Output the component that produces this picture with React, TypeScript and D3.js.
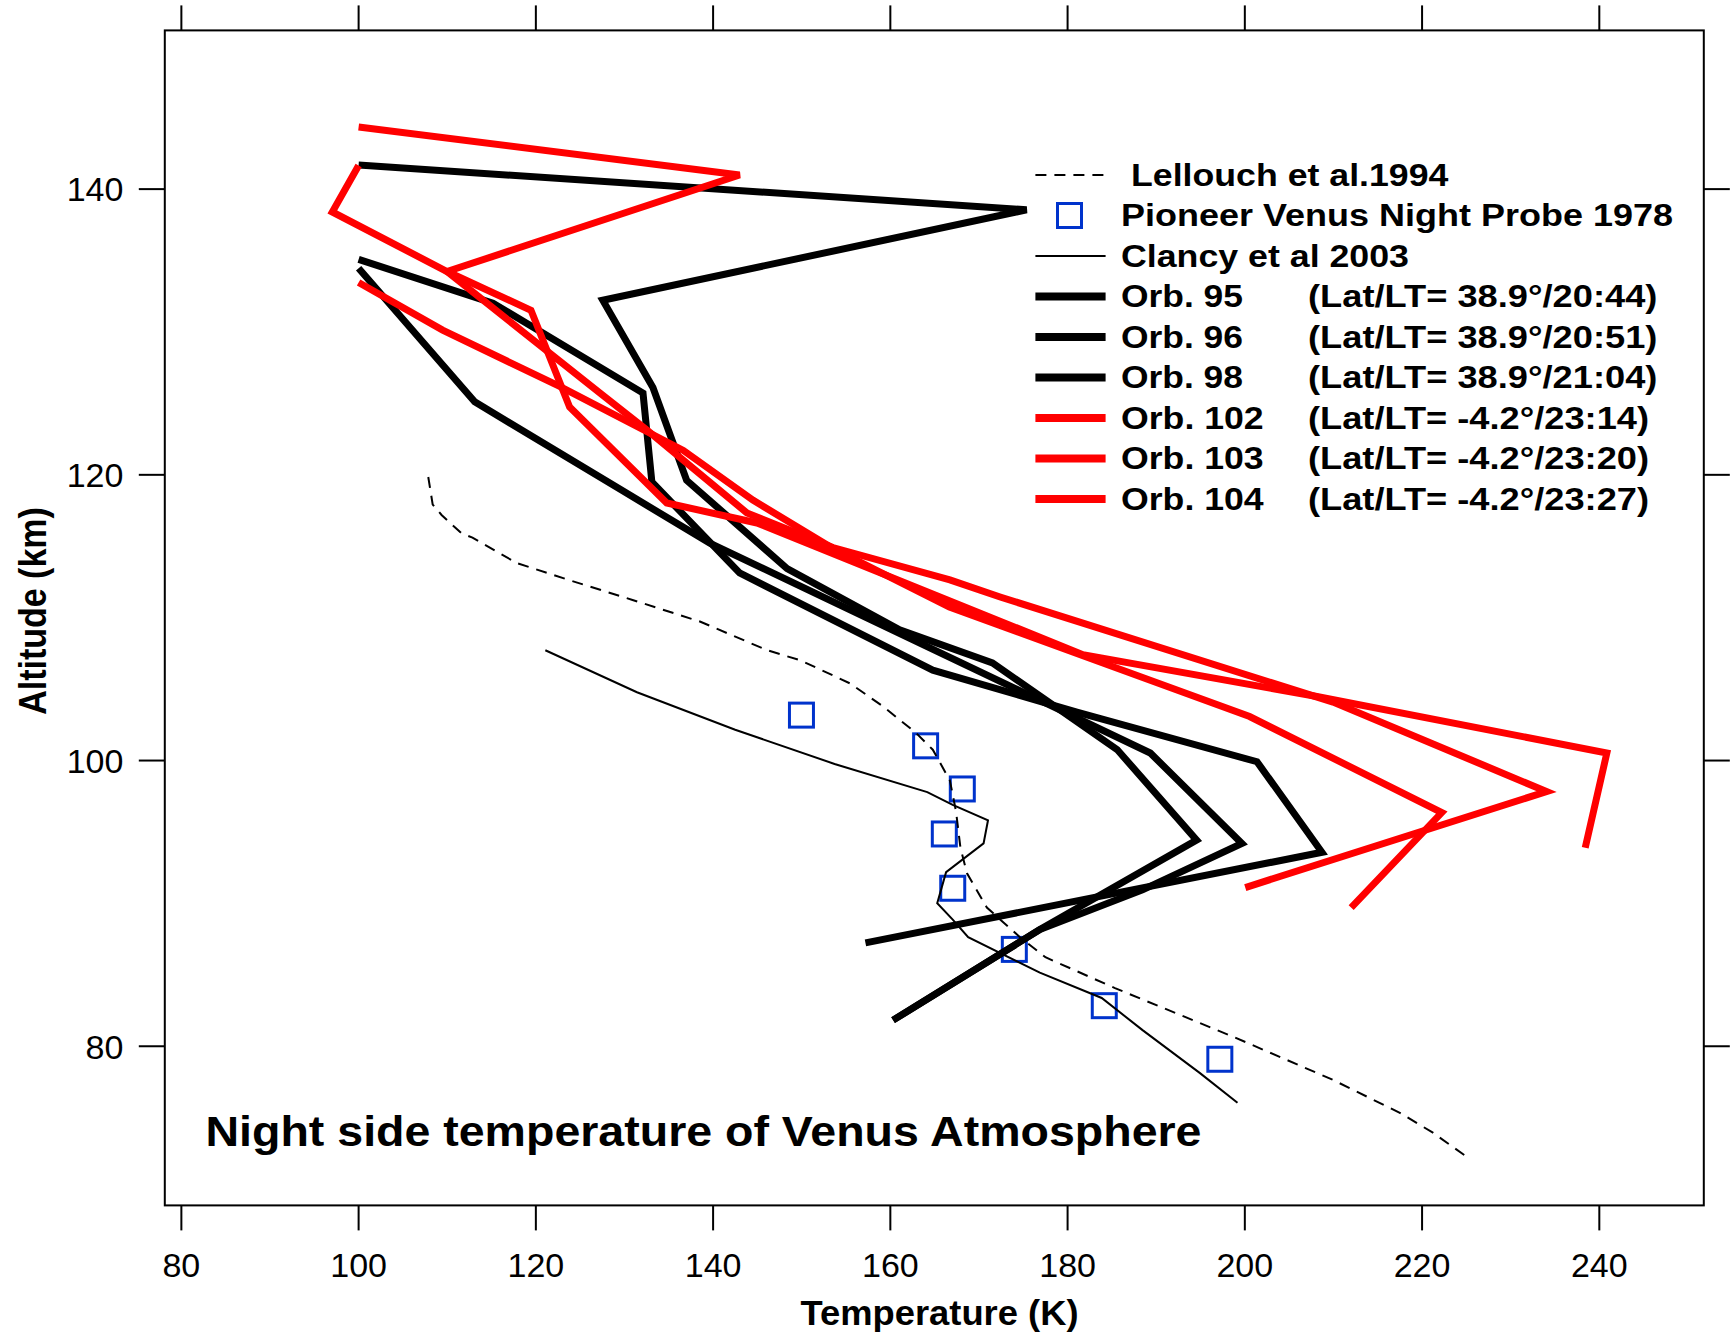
import React from "react";
import * as d3 from "d3";

const W = 1731;
const H = 1332;
const plot = { left: 164.8, right: 1703.8, top: 30.4, bottom: 1205.4 };
const xDomain = [78.13, 251.79];
const yDomain = [68.86, 151.11];

const tempTicks = [80, 100, 120, 140, 160, 180, 200, 220, 240];
const altTicks = [80, 100, 120, 140];

// [temperature K, altitude km]
const orb95: [number, number][] = [
  [100.0, 141.68], [175.38, 138.55], [127.55, 132.22], [133.21, 126.11], [137.01, 119.62],
  [148.35, 113.44], [161.05, 109.15], [171.52, 106.83], [185.59, 100.77], [194.56, 94.43],
  [176.87, 88.17], [160.31, 81.83],
];
const orb96: [number, number][] = [
  [100.0, 134.46], [113.1, 125.11], [129.66, 118.93], [139.63, 115.22], [189.33, 100.53],
  [199.67, 94.19], [188.46, 90.95], [176.87, 88.17], [160.31, 81.83],
];
const orb98: [number, number][] = [
  [100.0, 135.08], [115.16, 132.02], [132.09, 125.72], [133.09, 119.5], [142.99, 113.13],
  [164.79, 106.33], [181.05, 103.39], [201.37, 99.92], [208.7, 93.58], [157.19, 87.24],
];
const orb102: [number, number][] = [
  [100.0, 133.46], [109.48, 130.13], [122.69, 126.19], [136.64, 121.71], [144.49, 118.23],
  [153.58, 114.83], [166.66, 110.74], [200.54, 103.08], [222.22, 96.36], [212.0, 89.71],
];
const orb103: [number, number][] = [
  [100.0, 144.35], [142.99, 140.99], [109.98, 134.23], [127.23, 125.73], [132.53, 123.14],
  [143.82, 117.33], [153.52, 114.91], [166.72, 112.64], [172.39, 111.45], [209.95, 104.09],
  [234.05, 97.83], [200.05, 91.11],
];
const orb104: [number, number][] = [
  [100.0, 141.65], [97.03, 138.4], [109.98, 134.23], [119.45, 131.52], [123.81, 124.75],
  [134.77, 118.03], [144.95, 116.63], [181.73, 107.41], [208.14, 104.48], [240.85, 100.53],
  [238.41, 93.89],
];
const lellouch1994: [number, number][] = [
  [107.86, 119.85], [108.36, 117.92], [109.36, 117.19], [111.6, 115.91], [112.85, 115.6],
  [117.83, 113.83], [123.56, 112.67], [130.91, 111.24], [138.51, 109.73], [146.11, 107.72],
  [149.84, 107.02], [155.45, 105.4], [159.19, 103.78], [162.92, 101.92], [164.79, 100.76],
  [166.72, 98.6], [167.41, 96.44], [167.91, 93.89], [168.65, 92.11], [170.89, 89.71],
  [174.63, 87.63], [177.5, 86.23], [185.35, 84.07], [198.67, 80.67], [209.89, 77.66],
  [217.49, 75.34], [221.22, 73.95], [225.08, 72.25],
];
const clancy2003: [number, number][] = [
  [121.07, 107.72], [131.41, 104.78], [142.49, 102.16], [153.71, 99.76], [164.17, 97.79],
  [167.04, 96.9], [171.02, 95.82], [170.52, 94.2], [166.29, 92.19], [165.29, 90.02],
  [167.04, 88.86], [168.78, 87.63], [176.87, 85.15], [183.85, 83.38], [188.46, 81.13],
  [194.94, 78.12], [199.17, 76.04],
];
const pioneerVenus: [number, number][] = [
  [149.97, 103.18], [163.98, 101.03], [168.12, 98.01], [166.09, 94.86], [167.04, 91.06],
  [173.99, 86.78], [184.14, 82.84], [197.18, 79.09],
];

const orbitSeries = [orb95, orb96, orb98, orb102, orb103, orb104];
const orbitColors = ["#000000", "#000000", "#000000", "#ff0000", "#ff0000", "#ff0000"];
const orbitNames = ["Orb. 95", "Orb. 96", "Orb. 98", "Orb. 102", "Orb. 103", "Orb. 104"];
const orbitLatLT = [
  "(Lat/LT= 38.9°/20:44)",
  "(Lat/LT= 38.9°/20:51)",
  "(Lat/LT= 38.9°/21:04)",
  "(Lat/LT= -4.2°/23:14)",
  "(Lat/LT= -4.2°/23:20)",
  "(Lat/LT= -4.2°/23:27)",
];

const FONT = "'Liberation Sans', Arial, Helvetica, sans-serif";

export default function App() {
  const x = d3.scaleLinear().domain(xDomain).range([plot.left, plot.right]);
  const y = d3.scaleLinear().domain(yDomain).range([plot.bottom, plot.top]);
  const line = d3
    .line<[number, number]>()
    .x((d) => x(d[0]))
    .y((d) => y(d[1]));

  const legY0 = 175;
  const legStep = 40.5;
  const lx1 = 1035.4;
  const lx2 = 1105.6;
  const tx = 1121;
  const tx2 = 1308;
  const legFs = 30.5;
  const sq = 24;

  return (
    <svg
      width={W}
      height={H}
      style={{ position: "absolute", left: 0, top: 0, background: "#fff" }}
      fontFamily={FONT}
    >
      <rect x={0} y={0} width={W} height={H} fill="#fff" />

      {/* pioneer venus squares */}
      {pioneerVenus.map((d, i) => (
        <rect
          key={"pv" + i}
          x={x(d[0]) - sq / 2}
          y={y(d[1]) - sq / 2}
          width={sq}
          height={sq}
          fill="none"
          stroke="#0033cc"
          strokeWidth={3}
        />
      ))}

      {/* Lellouch dashed */}
      <path d={line(lellouch1994) || ""} fill="none" stroke="#000" strokeWidth={2} strokeDasharray="11,8" />
      {/* Clancy thin */}
      <path d={line(clancy2003) || ""} fill="none" stroke="#000" strokeWidth={2} />

      {/* orbits */}
      {orbitSeries.map((s, i) => (
        <path
          key={"orb" + i}
          d={line(s) || ""}
          fill="none"
          stroke={orbitColors[i]}
          strokeWidth={7}
          strokeLinejoin="miter"
        />
      ))}

      {/* frame */}
      <rect
        x={plot.left}
        y={plot.top}
        width={plot.right - plot.left}
        height={plot.bottom - plot.top}
        fill="none"
        stroke="#000"
        strokeWidth={2}
      />

      {/* x ticks top & bottom */}
      {tempTicks.map((t) => (
        <g key={"xt" + t}>
          <line x1={x(t)} x2={x(t)} y1={plot.bottom} y2={plot.bottom + 25} stroke="#000" strokeWidth={2} />
          <line x1={x(t)} x2={x(t)} y1={plot.top} y2={plot.top - 25} stroke="#000" strokeWidth={2} />
          <text x={x(t)} y={1276.5} fontSize={34} textAnchor="middle" fill="#000">
            {t}
          </text>
        </g>
      ))}
      {/* y ticks left & right */}
      {altTicks.map((a) => (
        <g key={"yt" + a}>
          <line x1={plot.left} x2={plot.left - 26} y1={y(a)} y2={y(a)} stroke="#000" strokeWidth={2} />
          <line x1={plot.right} x2={plot.right + 26} y1={y(a)} y2={y(a)} stroke="#000" strokeWidth={2} />
          <text x={123.4} y={y(a) + 12.3} fontSize={34} textAnchor="end" fill="#000">
            {a}
          </text>
        </g>
      ))}

      {/* axis titles */}
      <text
        x={800.5}
        y={1325}
        fontSize={35}
        fontWeight="bold"
        textLength={278}
        lengthAdjust="spacingAndGlyphs"
        fill="#000"
      >
        Temperature (K)
      </text>
      <text
        transform="translate(46,611) rotate(-90) scale(1,1.13)"
        fontSize={34}
        fontWeight="bold"
        textAnchor="middle"
        fill="#000"
      >
        Altitude (km)
      </text>

      {/* chart title inside */}
      <text
        x={205.5}
        y={1146}
        fontSize={42.5}
        fontWeight="bold"
        textLength={996}
        lengthAdjust="spacingAndGlyphs"
        fill="#000"
      >
        Night side temperature of Venus Atmosphere
      </text>

      {/* legend */}
      <g>
        <line x1={lx1} x2={lx2} y1={legY0} y2={legY0} stroke="#000" strokeWidth={2} strokeDasharray="11,8" />
        <text x={1131} y={legY0 + 10.5} fontSize={legFs} fontWeight="bold" textLength={317.4} lengthAdjust="spacingAndGlyphs">
          Lellouch et al.1994
        </text>

        <rect
          x={1069.5 - sq / 2}
          y={legY0 + legStep - sq / 2}
          width={sq}
          height={sq}
          fill="none"
          stroke="#0033cc"
          strokeWidth={3}
        />
        <text x={tx} y={legY0 + legStep + 10.5} fontSize={legFs} fontWeight="bold" textLength={552} lengthAdjust="spacingAndGlyphs">
          Pioneer Venus Night Probe 1978
        </text>

        <line x1={lx1} x2={lx2} y1={legY0 + 2 * legStep} y2={legY0 + 2 * legStep} stroke="#000" strokeWidth={2} />
        <text x={tx} y={legY0 + 2 * legStep + 10.5} fontSize={legFs} fontWeight="bold" textLength={288} lengthAdjust="spacingAndGlyphs">
          Clancy et al 2003
        </text>

        {orbitNames.map((n, i) => {
          const yy = legY0 + (3 + i) * legStep;
          return (
            <g key={"leg" + i}>
              <line x1={lx1} x2={lx2} y1={yy} y2={yy} stroke={orbitColors[i]} strokeWidth={8} />
              <text
                x={tx}
                y={yy + 10.5}
                fontSize={legFs}
                fontWeight="bold"
                textLength={i < 3 ? 122 : 142.7}
                lengthAdjust="spacingAndGlyphs"
              >
                {n}
              </text>
              <text
                x={tx2}
                y={yy + 10.5}
                fontSize={legFs}
                fontWeight="bold"
                textLength={i < 3 ? 349.4 : 341}
                lengthAdjust="spacingAndGlyphs"
              >
                {orbitLatLT[i]}
              </text>
            </g>
          );
        })}
      </g>
    </svg>
  );
}
